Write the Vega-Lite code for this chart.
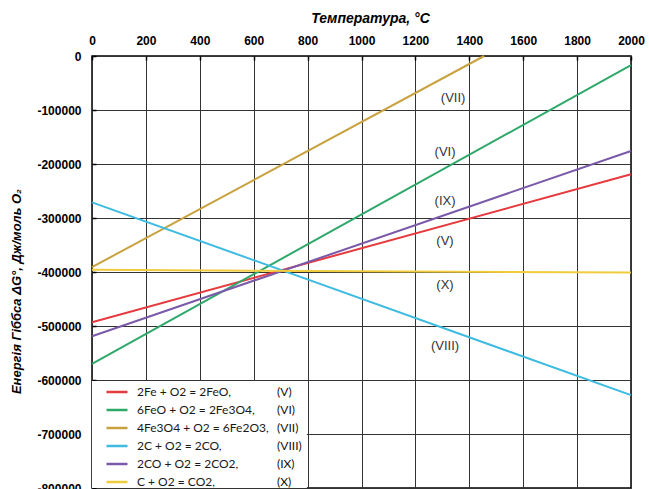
{
  "$schema": "https://vega.github.io/schema/vega-lite/v6.json",
  "width": 539,
  "height": 432,
  "autosize": {"type": "none"},
  "padding": {"left": 92, "top": 56, "right": 18, "bottom": 1},
  "background": "white",
  "config": {
    "view": {"stroke": "black", "strokeWidth": 1.5},
    "font": "Liberation Sans"
  },
  "datasets": {
    "lines": [
      {"eq": "2Fe + O2 = 2FeO,", "T": 0, "G": -493000},
      {"eq": "2Fe + O2 = 2FeO,", "T": 2000, "G": -219000},
      {"eq": "6FeO + O2 = 2Fe3O4,", "T": 0, "G": -570000},
      {"eq": "6FeO + O2 = 2Fe3O4,", "T": 2000, "G": -17000},
      {"eq": "4Fe3O4 + O2 = 6Fe2O3,", "T": 0, "G": -391000},
      {"eq": "4Fe3O4 + O2 = 6Fe2O3,", "T": 1455, "G": 0},
      {"eq": "2C + O2 = 2CO,", "T": 0, "G": -271000},
      {"eq": "2C + O2 = 2CO,", "T": 2000, "G": -628000},
      {"eq": "2CO + O2 = 2CO2,", "T": 0, "G": -519000},
      {"eq": "2CO + O2 = 2CO2,", "T": 2000, "G": -176000},
      {"eq": "C + O2 = CO2,", "T": 0, "G": -396000},
      {"eq": "C + O2 = CO2,", "T": 2000, "G": -401000}
    ],
    "labels": [
      {"num": "(VII)", "T": 1340, "G": -78000},
      {"num": "(VI)", "T": 1310, "G": -178000},
      {"num": "(IX)", "T": 1310, "G": -268000},
      {"num": "(V)", "T": 1310, "G": -343000},
      {"num": "(X)", "T": 1310, "G": -424000},
      {"num": "(VIII)", "T": 1310, "G": -537000}
    ]
  },
  "layer": [
    {
      "data": {"values": [{}]},
      "mark": {"type": "rect", "fill": "white"},
      "encoding": {
        "x": {"datum": 0, "type": "quantitative"},
        "x2": {"datum": 797},
        "y": {"datum": -800000, "type": "quantitative"},
        "y2": {"datum": -602000}
      }
    },
    {
      "data": {"name": "lines"},
      "mark": {"type": "line", "strokeWidth": 2},
      "encoding": {
        "x": {
          "field": "T", "type": "quantitative",
          "scale": {"domain": [0, 2000], "nice": false, "zero": false},
          "axis": {
            "orient": "top",
            "offset": -4,
            "title": "Температура,  °C",
            "titleFont": "Liberation Sans",
            "titleFontSize": 14,
            "titleFontStyle": "italic",
            "titleFontWeight": "bold",
            "titleColor": "black",
            "titleX": 278,
            "titleY": -42,
            "titleBaseline": "middle",
            "values": [0,50,100,150,200,250,300,350,400,450,500,550,600,650,700,750,800,850,900,950,1000,1050,1100,1150,1200,1250,1300,1350,1400,1450,1500,1550,1600,1650,1700,1750,1800,1850,1900,1950,2000],
            "labelExpr": "datum.value % 200 === 0 ? datum.value : ''",
            "labelFont": "Liberation Sans",
            "labelFontSize": 12,
            "labelFontWeight": "bold",
            "labelColor": "black",
            "labelPadding": 9,
            "labelFlush": false,
            "labelOverlap": false,
            "domain": false,
            "grid": true,
            "gridColor": "#333333",
            "gridWidth": 1,
            "gridOpacity": {"condition": {"test": "datum.value % 200 !== 0", "value": 0}, "value": 1},
            "tickColor": "black",
            "tickWidth": 1.5,
            "tickSize": 4
          }
        },
        "y": {
          "field": "G", "type": "quantitative",
          "scale": {"domain": [-800000, 0], "nice": false, "zero": false},
          "axis": {
            "offset": -4,
            "title": "Енергія  Гіббса ΔG°, Дж/моль O₂",
            "titleFont": "Liberation Sans",
            "titleFontSize": 13,
            "titleFontStyle": "italic",
            "titleFontWeight": "bold",
            "titleColor": "black",
            "titleX": -80,
            "titleY": 235,
            "titleBaseline": "middle",
            "values": [-800000,-750000,-700000,-650000,-600000,-550000,-500000,-450000,-400000,-350000,-300000,-250000,-200000,-150000,-100000,-50000,0],
            "labelExpr": "datum.value % 100000 === 0 ? datum.value : ''",
            "labelFont": "Liberation Sans",
            "labelFontSize": 12,
            "labelFontWeight": "bold",
            "labelColor": "black",
            "labelPadding": 11,
            "labelFlush": false,
            "labelOverlap": false,
            "domain": false,
            "grid": true,
            "gridColor": "#333333",
            "gridWidth": 1,
            "gridOpacity": {"condition": {"test": "datum.value % 100000 !== 0", "value": 0}, "value": 1},
            "tickColor": "black",
            "tickWidth": 1.5,
            "tickSize": 4
          }
        },
        "color": {
          "field": "eq", "type": "nominal",
          "scale": {
            "domain": ["2Fe + O2 = 2FeO,", "6FeO + O2 = 2Fe3O4,", "4Fe3O4 + O2 = 6Fe2O3,", "2C + O2 = 2CO,", "2CO + O2 = 2CO2,", "C + O2 = CO2,"],
            "range": ["#e53a3e", "#2fa86a", "#c9a240", "#3dbbe0", "#7a5aa8", "#f0cc3c"]
          },
          "legend": {
            "title": null,
            "orient": "none",
            "legendX": 13,
            "legendY": 324,
            "padding": 0,
            "symbolType": "stroke",
            "symbolSize": 441,
            "symbolStrokeWidth": 2.5,
            "labelFont": "Lato",
            "labelFontSize": 12,
            "labelColor": "#1a1a1a",
            "labelOffset": 8,
            "rowPadding": 0,
            "labelLimit": 200,
            "columnPadding": 0
          }
        }
      }
    },
    {
      "data": {"name": "labels"},
      "mark": {"type": "text", "font": "Liberation Sans", "fontSize": 13, "color": "#333333"},
      "encoding": {
        "x": {"field": "T", "type": "quantitative"},
        "y": {"field": "G", "type": "quantitative"},
        "text": {"field": "num", "type": "nominal"}
      }
    },
    {
      "data": {"name": "labels"},
      "mark": {"type": "point", "opacity": 0},
      "encoding": {
        "x": {"field": "T", "type": "quantitative"},
        "y": {"field": "G", "type": "quantitative"},
        "shape": {
          "field": "num", "type": "nominal",
          "scale": {
            "domain": ["(V)", "(VI)", "(VII)", "(VIII)", "(IX)", "(X)"],
            "range": ["stroke", "stroke", "stroke", "stroke", "stroke", "stroke"]
          },
          "legend": {
            "title": null,
            "orient": "none",
            "legendX": 156,
            "legendY": 324,
            "padding": 0,
            "symbolOpacity": 0,
            "symbolStrokeWidth": 2.5,
            "symbolSize": 441,
            "labelFont": "Lato",
            "labelFontSize": 12,
            "labelColor": "#111111",
            "labelOffset": 5,
            "labelLimit": 100,
            "rowPadding": 0
          }
        }
      }
    }
  ]
}
